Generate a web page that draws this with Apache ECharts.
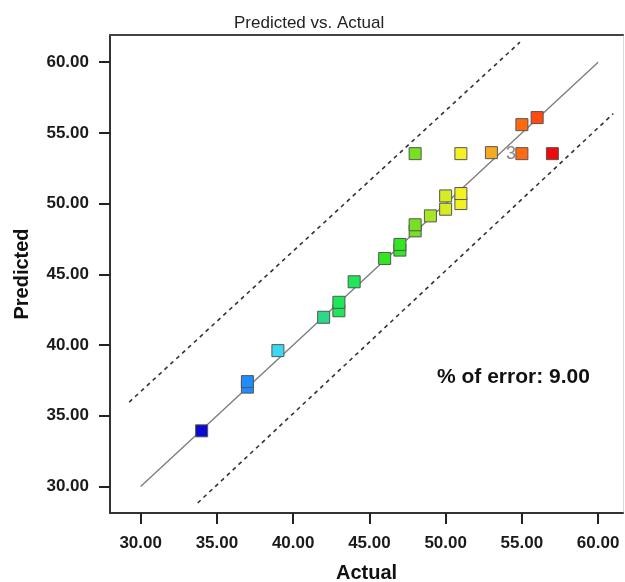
<!DOCTYPE html>
<html>
<head>
<meta charset="utf-8">
<script src="https://cdn.jsdelivr.net/npm/echarts@6/dist/echarts.min.js"></script>
<style>
  html, body { margin: 0; padding: 0; background: #fff; }
  #main { width: 625px; height: 582px; }
</style>
</head>
<body>
<div id="main"></div>
<script>
// values
const actual    = [34, 37, 37, 39, 42, 43, 43, 44, 46, 47, 47, 48, 48, 48, 49, 50, 50, 51, 51, 51, 53, 55, 55, 56, 57]
const predicted = [33.93, 37.02, 37.41, 39.6, 41.96, 42.42, 43.02, 44.47, 46.12, 46.71, 47.11, 48.07, 48.5, 53.53,
                   49.13, 49.6, 50.54, 50.0, 50.71, 53.53, 53.6, 53.53, 55.58, 56.08, 53.53]
const tickValues = [30, 35, 40, 45, 50, 55, 60]
// reference line y = x and the two bands (dashed)
const idealLine = [[30, 30], [60, 60]]
const upperBand = [[29.25, 35.96], [54.87, 61.41]]
const lowerBand = [[33.74, 28.83], [60.99, 56.36]]
const repeatIdx = 21   // point labelled "3" (replicates)
const errorText = '% of error: 9.00'

const font = 'Liberation Sans, Arial, sans-serif'
const points = actual.map((a, i) => [a, predicted[i]])

const chart = echarts.init(document.getElementById('main'))

const axisCommon = {
  type: 'value',
  splitLine: { show: false },
  axisLine: { show: true, lineStyle: { color: '#333', width: 2 } },
  axisTick: { show: true, inside: false, length: 11, customValues: tickValues, lineStyle: { color: '#222', width: 2 } },
  axisLabel: {
    customValues: tickValues,
    formatter: v => v.toFixed(2),
    fontFamily: font, fontSize: 17, color: '#1a1a1a', fontWeight: 'bold'
  },
  nameLocation: 'middle',
  nameTextStyle: { fontFamily: font, fontSize: 20, fontWeight: 'bold', color: '#111' }
}

const option = {
  animation: false,
  title: {
    text: 'Predicted vs. Actual',
    left: 229, top: 10,
    textStyle: { fontFamily: font, fontSize: 17, fontWeight: 'normal', color: '#222' }
  },
  grid: { left: 110, top: 35, right: 2, bottom: 69, containLabel: false, outerBoundsMode: 'none' },
  xAxis: [
    Object.assign({}, axisCommon, {
      min: 27.99, max: 61.63, name: 'Actual', nameGap: 50,
      axisLabel: Object.assign({}, axisCommon.axisLabel, { margin: 22 })
    }),
    { type: 'value', position: 'top', min: 27.99, max: 61.63,
      splitLine: { show: false }, axisTick: { show: false }, axisLabel: { show: false },
      axisLine: { show: true, lineStyle: { color: '#444', width: 2 } } }
  ],
  yAxis: [
    Object.assign({}, axisCommon, {
      min: 28.12, max: 61.92, name: 'Predicted', nameGap: 78,
      axisLabel: Object.assign({}, axisCommon.axisLabel, { margin: 21 })
    }),
    { type: 'value', position: 'right', min: 28.12, max: 61.92,
      splitLine: { show: false }, axisTick: { show: false }, axisLabel: { show: false },
      axisLine: { show: true, lineStyle: { color: '#dadada', width: 1 } } }
  ],
  visualMap: {
    type: 'piecewise', show: false, dimension: 0, seriesIndex: 3,
    pieces: [
      { lt: 35, color: '#0a0ad0' },
      { gte: 35, lt: 38, color: '#1e8cff' },
      { gte: 38, lt: 40, color: '#3cd8f0' },
      { gte: 40, lt: 42.5, color: '#2ad98a' },
      { gte: 42.5, lt: 45, color: '#1ee85a' },
      { gte: 45, lt: 47.5, color: '#33e622' },
      { gte: 47.5, lt: 48.5, color: '#77e022' },
      { gte: 48.5, lt: 49.5, color: '#a8e622' },
      { gte: 49.5, lt: 50.5, color: '#d4ec22' },
      { gte: 50.5, lt: 52, color: '#f2f222' },
      { gte: 52, lt: 54, color: '#f5aa22' },
      { gte: 54, lt: 55.5, color: '#ff6a11' },
      { gte: 55.5, lt: 56.5, color: '#ff4a11' },
      { gte: 56.5, color: '#ee0a0a' }
    ]
  },
  graphic: [{
    type: 'text', left: 437, top: 367,
    style: { text: errorText, font: 'bold 21px ' + font, fill: '#111' }
  }],
  series: [
    { type: 'line', data: idealLine, symbol: 'none', silent: true, z: 2,
      lineStyle: { color: '#7a7a7a', width: 1.3 } },
    { type: 'line', data: upperBand, symbol: 'none', silent: true, z: 2,
      lineStyle: { color: '#333', width: 1.6, type: [4, 4] } },
    { type: 'line', data: lowerBand, symbol: 'none', silent: true, z: 2,
      lineStyle: { color: '#333', width: 1.6, type: [4, 4] } },
    { type: 'scatter', data: points, symbol: 'rect', symbolSize: 12, z: 5,
      itemStyle: { borderColor: '#555', borderWidth: 1, opacity: 1 } },
    { type: 'scatter', data: [points[repeatIdx]], symbolSize: 0, z: 6, silent: true,
      label: { show: true, position: 'left', distance: 6, formatter: '3',
               fontFamily: font, fontSize: 18, color: '#666' } }
  ]
}

chart.setOption(option)
</script>
</body>
</html>
